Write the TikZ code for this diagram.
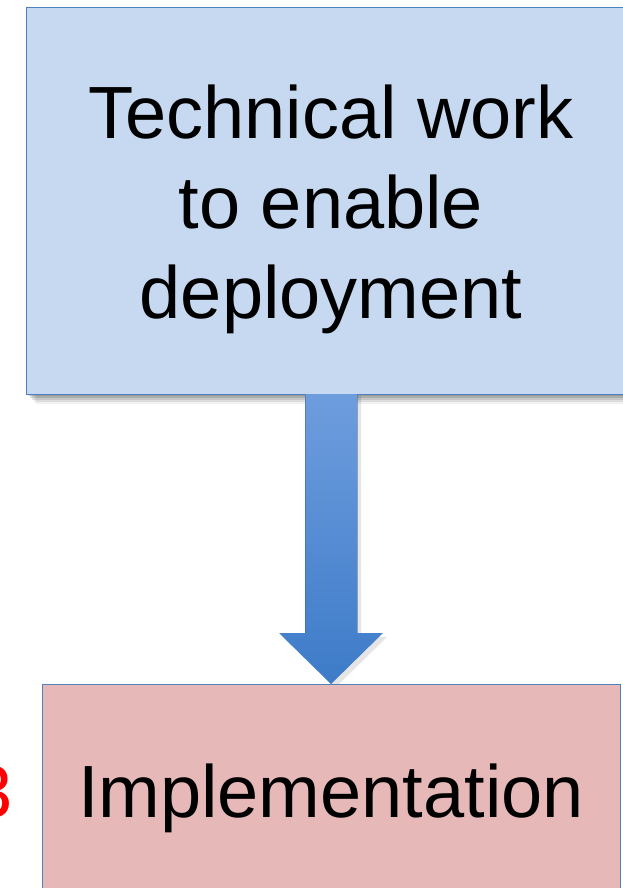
\documentclass[tikz,border=0pt]{standalone}
\usepackage{fontspec}
\setmainfont{Liberation Sans}
\definecolor{topfill}{HTML}{C6D9F1}
\definecolor{botfill}{HTML}{E6B9B8}
\definecolor{edge}{HTML}{4F81BD}
\definecolor{arrtop}{HTML}{6E9DDE}
\definecolor{arrbot}{HTML}{3D7BC8}
\tikzset{
  boxstyle/.style={draw=edge, line width=1.2pt},
  bigtext/.style={font=\fontsize{74}{90}\selectfont, inner sep=0pt, align=center},
}
\begin{document}
\begin{tikzpicture}[x=1pt,y=-1pt]
\useasboundingbox (0,0) rectangle (623,888);
\clip (0,0) rectangle (623,888);
% shadow of top box
\foreach \o/\op in {10/0.06,8/0.08,6/0.1,4/0.12,2/0.12}{
  \fill[black,opacity=\op] (26+\o,7+\o) rectangle (640+\o,394+\o);
}
\node[boxstyle, fill=topfill, minimum width=614pt, minimum height=387pt, anchor=north west, inner sep=0pt] (top) at (26,7) {};
\node[bigtext] (toptext) at (331,209) {Technical work\\to enable\\deployment};
% arrow shadow
\fill[black,opacity=0.1] (309,396) -- (361,396) -- (361,637) -- (387,637) -- (335,688) -- (283,637) -- (309,637) -- cycle;
% arrow
\shade[top color=arrtop, bottom color=arrbot] (305,394) -- (357,394) -- (357,633) -- (383,633) -- (331,684) -- (279,633) -- (305,633) -- cycle;
\draw[edge!80!black, line width=0.6pt, opacity=0.5] (305,394) -- (305,633) (357,394) -- (357,633);
% bottom box
\node[boxstyle, fill=botfill, minimum width=578pt, minimum height=220pt, anchor=north west, inner sep=0pt] (bot) at (42,684) {};
\node[bigtext, anchor=base] (bottext) at (331,817) {Implementation};
\node[bigtext, anchor=base east, text=red] (num) at (13,817) {3};
\end{tikzpicture}
\end{document}
